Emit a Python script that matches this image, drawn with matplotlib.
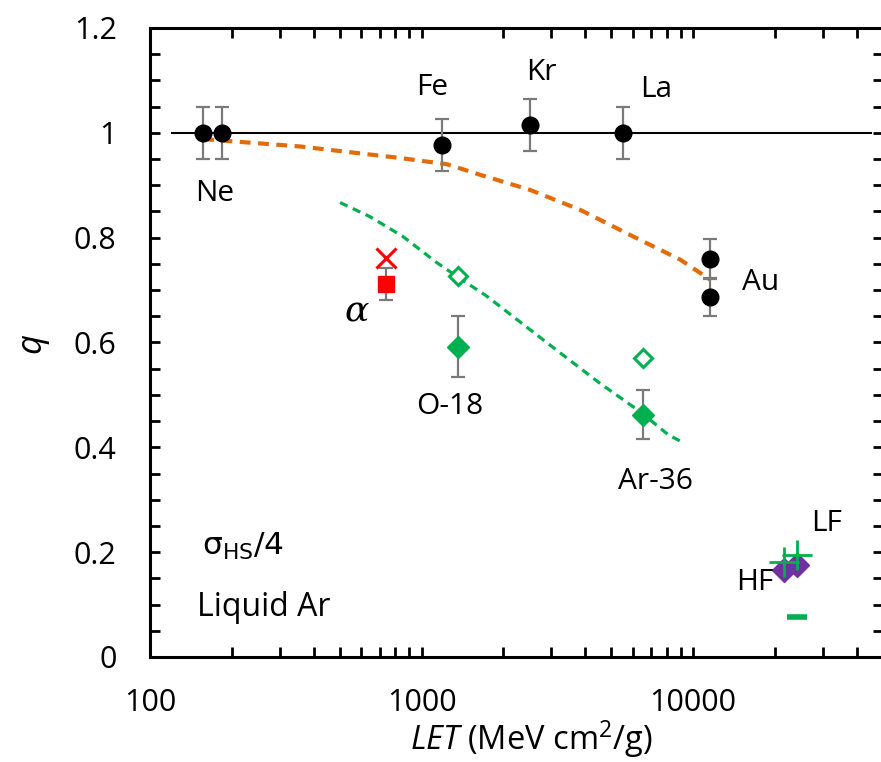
import numpy as np
import matplotlib.pyplot as plt
from matplotlib.ticker import FixedLocator, NullFormatter

plt.rcParams['font.family'] = ['Open Sans', 'DejaVu Sans']
plt.rcParams['mathtext.fontset'] = 'custom'
plt.rcParams['mathtext.rm'] = 'Open Sans'
plt.rcParams['mathtext.it'] = 'Open Sans:italic'

# heavy ions (black circles)
ion_let = [157, 184, 1190, 2510, 5520, 11550, 11550]
ion_q = [1.0, 1.0, 0.977, 1.015, 1.0, 0.76, 0.687]
ion_err = [0.05, 0.05, 0.05, 0.05, 0.05, 0.038, 0.036]

# alpha
alpha_let = [740]
alpha_q = [0.712]
alpha_err = [0.03]
alpha_x_q = [0.761]

# O-18 and Ar-36
light_let = [1358, 6530]
light_q = [0.592, 0.462]
light_err = [0.058, 0.047]
light_open_q = [0.726, 0.571]

# HF / LF
hf_let = [21600, 24200]
hf_q = [0.166, 0.176]
plus_let = [21600, 24200]
plus_q = [0.181, 0.195]
minus_let = [24200]
minus_q = [0.076]

# fitted curves
orange_let = [157, 357, 545, 834, 1242, 1642, 2512, 3839, 5866, 8963, 11550]
orange_q = [0.988, 0.974, 0.963, 0.952, 0.940, 0.920, 0.891, 0.853, 0.805, 0.758, 0.720]
green_let = [501, 646, 855, 1140, 1351, 1742, 2972, 4541, 6380, 8094, 9190]
green_q = [0.867, 0.840, 0.802, 0.752, 0.726, 0.688, 0.595, 0.522, 0.468, 0.424, 0.409]

labels = ['Ne', 'Fe', 'Kr', 'La', 'Au', 'O-18', 'Ar-36', 'LF', 'HF']
label_let = [173, 1094, 2754, 7311, 17660, 1273, 7245, 30900, 16900]
label_q = [0.885, 1.086, 1.116, 1.082, 0.714, 0.477, 0.334, 0.254, 0.143]

xticks = [100, 1000, 10000]
yticks = [0, 0.2, 0.4, 0.6, 0.8, 1.0, 1.2]
ytick_labels = ['0', '0.2', '0.4', '0.6', '0.8', '1', '1.2']

fs = 21.5
green = '#00b050'
grey = '#7a7a7a'

fig = plt.figure(figsize=(8.81, 7.62), dpi=100)
ax = fig.add_axes([150/881, 1-657/762, 733/881, 629/762])

ax.plot([120, 45000], [1, 1], color='black', lw=1.5, zorder=1)
ax.plot(orange_let, orange_q, ls=(0, (2.6, 1.8)), color='#e36c0a', lw=3, zorder=2)
ax.plot(green_let, green_q, ls=(0, (2.6, 1.8)), color=green, lw=2.3, zorder=2)

ax.errorbar(ion_let, ion_q, yerr=ion_err, fmt='o', color='black', ms=12,
            ecolor=grey, elinewidth=1.6, capsize=5, capthick=1.6, zorder=3)
ax.errorbar(alpha_let, alpha_q, yerr=alpha_err, fmt='s', color='red', ms=11,
            ecolor=grey, elinewidth=1.6, capsize=5, capthick=1.6, zorder=3)
ax.plot(alpha_let, alpha_x_q, 'x', color='red', ms=15, mew=2.2, zorder=3)
ax.errorbar(light_let, light_q, yerr=light_err, fmt='D', color=green, ms=11,
            ecolor=grey, elinewidth=1.6, capsize=5, capthick=1.6, zorder=3)
ax.plot(light_let, light_open_q, 'D', mfc='white', mec=green, mew=2.2, ms=9.5, zorder=3)
ax.plot(hf_let, hf_q, 'D', color='#7030a0', ms=12.5, zorder=3)
ax.plot(plus_let, plus_q, '+', color=green, ms=22, mew=2, zorder=4)
ax.plot(minus_let, minus_q, '_', color=green, ms=15, mew=4, zorder=4)

for s, x, y in zip(labels, label_let, label_q):
    ax.text(x, y, s, fontsize=fs, ha='center', va='center')
ax.text(578, 0.66, 'α', fontsize=26, ha='center', va='center',
        family='DejaVu Serif', style='italic')
ax.text(155, 0.21, r'$\mathregular{\sigma_{HS}}$/4', fontsize=fs + 1, ha='left', va='center',
        family=['DejaVu Sans'])
ax.text(149, 0.095, 'Liquid Ar', fontsize=fs + 1.5, ha='left', va='center')

ax.set_xscale('log')
ax.set_xlim(100, 50000)
ax.set_ylim(0, 1.2)
ax.xaxis.set_major_locator(FixedLocator(xticks))
ax.xaxis.set_minor_locator(FixedLocator([k * 10**e for e in (2, 3, 4) for k in range(2, 10) if k * 10**e < 50000]))
ax.xaxis.set_minor_formatter(NullFormatter())
ax.set_xticklabels([str(t) for t in xticks])
ax.yaxis.set_major_locator(FixedLocator(yticks))
ax.yaxis.set_minor_locator(FixedLocator(np.arange(0, 1.21, 0.05)))
ax.set_yticklabels(ytick_labels)

for sp in ax.spines.values():
    sp.set_linewidth(2.2)
ax.tick_params(which='both', direction='in', top=True, right=True, width=2, length=7,
               labelsize=22)
ax.tick_params(axis='y', which='both', pad=24)
ax.tick_params(axis='x', which='both', pad=22)

ax.set_xlabel(r'$\mathit{LET}$ (MeV cm$^\mathregular{2}$/g)', fontsize=23.5, labelpad=0)
ax.xaxis.set_label_coords(0.52, -0.098)
ax.set_ylabel('q', fontsize=25, style='italic', labelpad=18)

fig.savefig('out.png', dpi=100)
